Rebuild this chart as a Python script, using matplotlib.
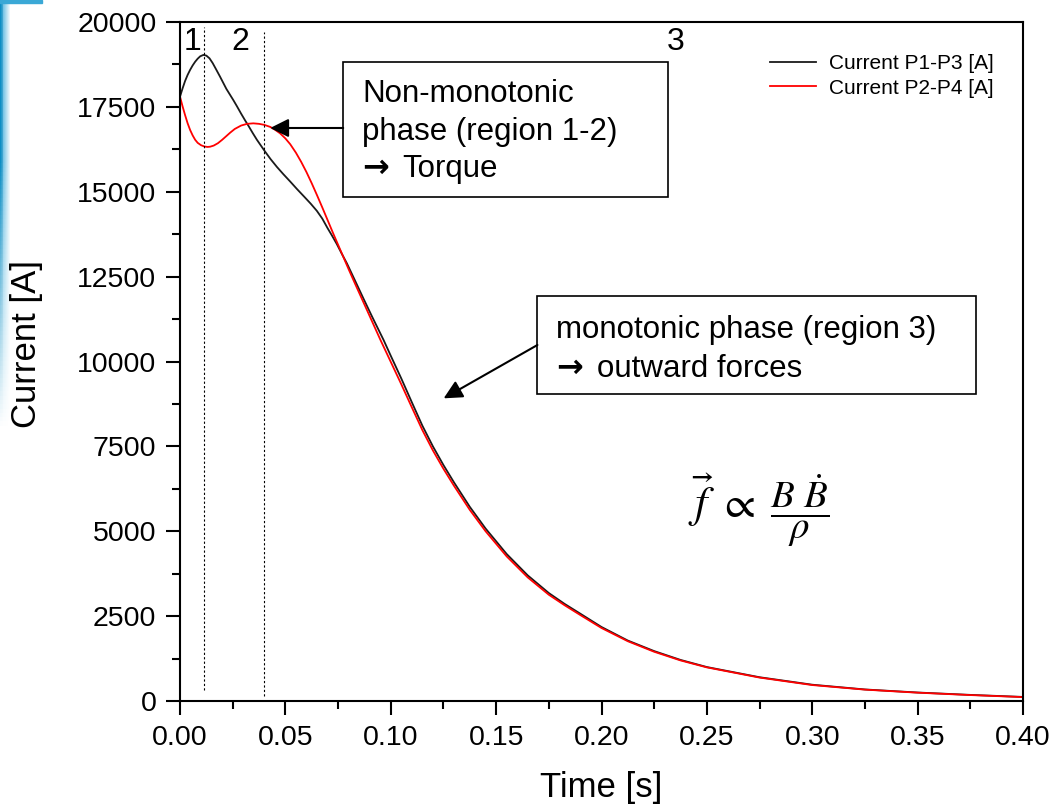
import numpy as np
import matplotlib.pyplot as plt
from matplotlib.patches import Rectangle
from matplotlib.ticker import MultipleLocator

plt.rcParams['font.family'] = ['Liberation Sans', 'DejaVu Sans']
plt.rcParams['mathtext.fontset'] = 'stix'

# Current P1-P3 (black)
t_p13 = [0.0000, 0.0012, 0.0024, 0.0036, 0.0048, 0.0060, 0.0072, 0.0084, 0.0096,
         0.0111, 0.0125, 0.0140, 0.0155, 0.0170, 0.0190, 0.0205, 0.0220, 0.0237,
         0.0253, 0.0270, 0.0290, 0.0310, 0.0325, 0.0345, 0.0365, 0.0385, 0.0404,
         0.0430, 0.0460, 0.0490, 0.0523, 0.0555, 0.0590, 0.0620, 0.0649, 0.0675,
         0.0700, 0.0722, 0.0744, 0.0768, 0.0792, 0.0830, 0.0870, 0.0910, 0.0966,
         0.1000, 0.1050, 0.1100, 0.1150, 0.1200, 0.1250, 0.1300, 0.1375, 0.1450,
         0.1550, 0.1650, 0.1750, 0.1825, 0.1900, 0.2000, 0.2125, 0.2250, 0.2375,
         0.2500, 0.2750, 0.3000, 0.3250, 0.3500, 0.3750, 0.4000]
i_p13 = [17800, 18040, 18260, 18440, 18590, 18720, 18830, 18920, 18990,
         19030, 19010, 18930, 18790, 18620, 18390, 18210, 18030, 17860,
         17700, 17520, 17300, 17090, 16940, 16730, 16530, 16350, 16180,
         15960, 15730, 15520, 15300, 15080, 14850, 14650, 14440, 14210,
         13930, 13700, 13460, 13170, 12890, 12390, 11860, 11340, 10633,
         10170, 9500, 8800, 8110, 7500, 6950, 6440, 5720, 5080,
         4330, 3700, 3180, 2860, 2570, 2180, 1780, 1470, 1210,
         1000, 700, 480, 340, 250, 180, 120]

# Current P2-P4 (red)
t_p24 = [0.0000, 0.0012, 0.0024, 0.0036, 0.0048, 0.0060, 0.0072, 0.0084, 0.0100,
         0.0115, 0.0130, 0.0143, 0.0160, 0.0180, 0.0200, 0.0220, 0.0238, 0.0260,
         0.0290, 0.0318, 0.0348, 0.0375, 0.0400, 0.0428, 0.0450, 0.0475, 0.0500,
         0.0523, 0.0550, 0.0575, 0.0600, 0.0625, 0.0650, 0.0675, 0.0700, 0.0725,
         0.0750, 0.0775, 0.0800, 0.0830, 0.0870, 0.0910, 0.0950, 0.1000, 0.1050,
         0.1100, 0.1150, 0.1200, 0.1250, 0.1300, 0.1375, 0.1450, 0.1550, 0.1650,
         0.1750, 0.1825, 0.1900, 0.2000, 0.2125, 0.2250, 0.2375, 0.2500, 0.2750,
         0.3000, 0.3250, 0.3500, 0.3750, 0.4000]
i_p24 = [17800, 17520, 17260, 17020, 16820, 16660, 16530, 16440, 16370,
         16335, 16320, 16327, 16360, 16430, 16530, 16640, 16740, 16850,
         16950, 17000, 17015, 17000, 16970, 16910, 16830, 16720, 16570,
         16400, 16150, 15880, 15580, 15250, 14900, 14540, 14170, 13800,
         13440, 13080, 12720, 12300, 11750, 11200, 10650, 9990, 9330,
         8650, 7980, 7380, 6840, 6340, 5630, 5000, 4260, 3640,
         3130, 2820, 2530, 2150, 1760, 1450, 1195, 990, 690,
         470, 335, 245, 175, 115]

region_lines = [0.0114, 0.0399]
region_line_bottom = [320, 150]
region_line_top = [19850, 19700]
region_labels = ['1', '2', '3']
region_label_x = [0.0057, 0.0285, 0.2353]
region_label_y = 19420

fig = plt.figure(figsize=(10.52, 8.09), dpi=100)
ax = fig.add_axes([180 / 1052, 108 / 809, 843 / 1052, 679 / 809])

ax.plot(t_p13, i_p13, color='#1a1a1a', lw=1.3, label='Current P1-P3 [A]')
ax.plot(t_p24, i_p24, color='#ff0000', lw=1.3, label='Current P2-P4 [A]')

ax.vlines(region_lines, region_line_bottom, region_line_top, colors='black',
          linestyles=(0, (2, 2)), lw=0.8)
for lab, x in zip(region_labels, region_label_x):
    ax.text(x, region_label_y, lab, fontsize=23, ha='center', va='center')

ax.set_xlim(0, 0.4)
ax.set_ylim(0, 20000)
ax.xaxis.set_major_locator(MultipleLocator(0.05))
ax.xaxis.set_minor_locator(MultipleLocator(0.025))
ax.yaxis.set_major_locator(MultipleLocator(2500))
ax.yaxis.set_minor_locator(MultipleLocator(1250))
ax.xaxis.set_major_formatter(lambda v, p: f'{v:.2f}')
ax.yaxis.set_major_formatter(lambda v, p: f'{v:.0f}')
ax.tick_params(which='major', direction='out', length=10, width=1.5, labelsize=20.5, pad=7)
ax.tick_params(which='minor', direction='out', length=5.5, width=1.5)
for sp in ax.spines.values():
    sp.set_linewidth(1.5)

ax.set_xlabel('Time [s]', fontsize=25)
ax.set_ylabel('Current [A]', fontsize=25)
ax.xaxis.set_label_coords(0.5, -0.103)
ax.yaxis.set_label_coords(-0.163, 0.526)

ax.legend(loc='upper right', bbox_to_anchor=(0.987, 0.98), frameon=False,
          fontsize=15, handlelength=2.2, handletextpad=0.6, labelspacing=0.25)


def box_text(x, baselines, lines, arrow_y, arrow_word, word_x):
    # plain lines first, then the arrow line with a heavier arrow glyph
    for y, s in zip(baselines, lines):
        ax.text(x, y, s, transform=ax.transAxes, fontsize=22.5,
                va='baseline', ha='left', zorder=5)
    ax.text(x, arrow_y, '\u2192', transform=ax.transAxes, fontsize=23,
            family='DejaVu Sans', weight='bold', va='baseline', ha='left', zorder=5)
    ax.text(word_x, arrow_y, arrow_word, transform=ax.transAxes, fontsize=22.5,
            va='baseline', ha='left', zorder=5)


# box for the non-monotonic phase
ax.add_patch(Rectangle((0.1936, 0.7423), 0.3848, 0.1988, transform=ax.transAxes,
                       fc='white', ec='black', lw=1.2, zorder=4))
box_text(0.2159, [0.8822, 0.8262], ['Non-monotonic', 'phase (region 1-2)'],
         0.7717, 'Torque', 0.2633)
ax.annotate('', xy=(0.0428, 16878), xytext=(0.1936, 0.8439),
            textcoords='axes fraction',
            arrowprops=dict(arrowstyle='-|>', color='black', lw=1.5,
                            mutation_scale=28, shrinkA=0, shrinkB=0), zorder=5)

# box for the monotonic phase
ax.add_patch(Rectangle((0.424, 0.4521), 0.5202, 0.1444, transform=ax.transAxes,
                       fc='white', ec='black', lw=1.2, zorder=4))
box_text(0.446, [0.5346], ['monotonic phase (region 3)'],
         0.4772, 'outward forces', 0.4943)
ax.annotate('', xy=(0.1251, 8915), xytext=(0.424, 0.5243),
            textcoords='axes fraction',
            arrowprops=dict(arrowstyle='-|>', color='black', lw=1.5,
                            mutation_scale=28, shrinkA=0, shrinkB=0), zorder=5)

# force relation
ax.text(0.682, 0.296, r'$\vec{f}\ \propto$', transform=ax.transAxes,
        fontsize=32, ha='right', va='center')
ax.text(0.6999, 0.28, r'$\dfrac{B\ \dot{B}}{\rho}$', transform=ax.transAxes,
        fontsize=28, ha='left', va='center')

# blue slide edge on the left
edge = fig.add_axes([0, 1 - 430 / 809, 10 / 1052, 430 / 809])
xs = np.linspace(0, 1, 10)
ys = np.linspace(0, 1, 100)
alpha = np.outer(np.clip(ys * 1.6, 0, 1), 1 - xs * 0.9)
rgba = np.zeros((100, 10, 4))
rgba[..., 0] = 0.25
rgba[..., 1] = 0.68
rgba[..., 2] = 0.86
rgba[..., 3] = alpha
rgba[:, :3, :3] = [0.05, 0.56, 0.77]
edge.imshow(rgba, aspect='auto', origin='lower', extent=[0, 1, 0, 1])
edge.axis('off')
fig.patches.append(Rectangle((0, 1 - 3 / 809), 42 / 1052, 3 / 809,
                             transform=fig.transFigure, color='#3aa8d6'))

fig.savefig('out.png', dpi=100)
